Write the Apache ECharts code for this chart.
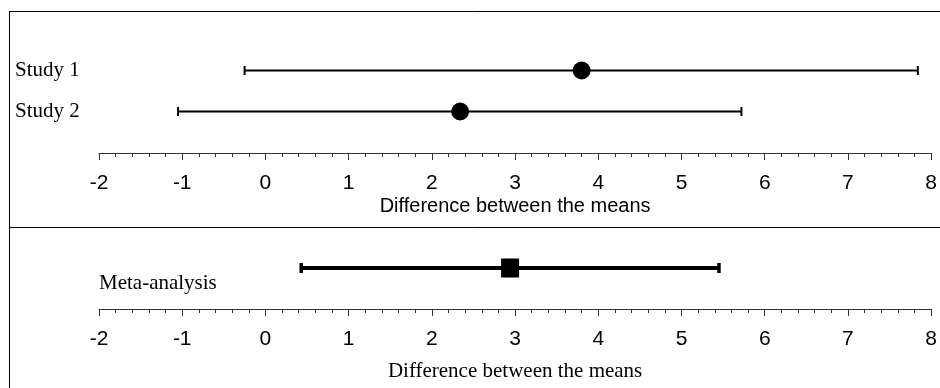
<!DOCTYPE html>
<html>
<head>
<meta charset="utf-8">
<script src="https://cdn.jsdelivr.net/npm/echarts@6/dist/echarts.min.js"></script>
<style>html,body{margin:0;padding:0;background:#fff;}#c{width:940px;height:388px;}</style>
</head>
<body>
<div id="c"></div>
<script>
// Data
const studies = ['Study 1', 'Study 2'];
const studyMean = [3.80, 2.34];
const studyLow = [-0.25, -1.05];
const studyHigh = [7.84, 5.72];
const metaLabel = ['Meta-analysis'];
const metaMean = [2.94];
const metaLow = [0.43];
const metaHigh = [5.45];
const axisName = 'Difference between the means';
const xMin = -2, xMax = 8;

const chart = echarts.init(document.getElementById('c'));

function errRender(lineW, capHalf, capW) {
  return function (params, api) {
    const y = api.value(2);
    const a = api.coord([api.value(0), y]);
    const b = api.coord([api.value(1), y]);
    const st = { stroke: '#000', lineWidth: lineW };
    const cst = { stroke: '#000', lineWidth: capW };
    return {
      type: 'group',
      children: [
        { type: 'line', shape: { x1: a[0], y1: a[1], x2: b[0], y2: b[1] }, style: st },
        { type: 'line', shape: { x1: a[0], y1: a[1] - capHalf, x2: a[0], y2: a[1] + capHalf }, style: cst },
        { type: 'line', shape: { x1: b[0], y1: b[1] - capHalf, x2: b[0], y2: b[1] + capHalf }, style: cst }
      ]
    };
  };
}

function xAxisDef(gi, nameFont, nameSize, nameGap) {
  return {
    type: 'value', gridIndex: gi, min: xMin, max: xMax, interval: 1,
    position: 'bottom', offset: 21,
    name: axisName, nameLocation: 'middle', nameGap: nameGap,
    nameTextStyle: { fontFamily: nameFont, fontSize: nameSize, color: '#000' },
    axisLine: { show: true, onZero: false, lineStyle: { color: '#333', width: 1 } },
    axisTick: { show: true, length: 7, lineStyle: { color: '#333', width: 1 } },
    minorTick: { show: true, splitNumber: 5, length: 4, lineStyle: { color: '#333', width: 1 } },
    splitLine: { show: false },
    minorSplitLine: { show: false },
    axisLabel: { margin: 20, fontFamily: 'Liberation Sans', fontSize: 21, color: '#000' }
  };
}

const option = {
  animation: false,
  backgroundColor: '#fff',
  grid: [
    { left: 99, right: 7, top: 50, height: 82 },
    { left: 99, right: 7, top: 248, height: 40 }
  ],
  xAxis: [
    xAxisDef(0, 'Liberation Sans', 20, 43),
    xAxisDef(1, 'Liberation Serif', 21, 52)
  ],
  yAxis: [
    {
      type: 'category', gridIndex: 0, data: studies, inverse: true,
      axisLine: { show: false }, axisTick: { show: false }, splitLine: { show: false },
      axisLabel: { align: 'left', margin: 84, padding: [3, 0, 0, 0], fontFamily: 'Liberation Serif', fontSize: 21, color: '#000' }
    },
    {
      type: 'category', gridIndex: 1, data: metaLabel,
      axisLine: { show: false }, axisTick: { show: false }, splitLine: { show: false },
      axisLabel: { align: 'left', margin: 0, verticalAlign: 'top', padding: [5, 0, 0, 0], fontFamily: 'Liberation Serif', fontSize: 21, color: '#000' }
    }
  ],
  series: [
    {
      type: 'custom', xAxisIndex: 0, yAxisIndex: 0,
      data: studies.map((s, i) => [studyLow[i], studyHigh[i], i]),
      encode: { x: [0, 1], y: 2 },
      renderItem: errRender(2, 4.5, 2),
      z: 2
    },
    {
      type: 'scatter', xAxisIndex: 0, yAxisIndex: 0,
      data: studyMean.map((m, i) => [m, i]),
      symbol: 'circle', symbolSize: 18,
      itemStyle: { color: '#000', opacity: 1 },
      z: 3
    },
    {
      type: 'custom', xAxisIndex: 1, yAxisIndex: 1,
      data: metaMean.map((m, i) => [metaLow[i], metaHigh[i], i]),
      encode: { x: [0, 1], y: 2 },
      renderItem: errRender(4, 5, 3.5),
      z: 2
    },
    {
      type: 'scatter', xAxisIndex: 1, yAxisIndex: 1,
      data: metaMean.map((m, i) => [m, i]),
      symbol: 'rect', symbolSize: [18, 19],
      itemStyle: { color: '#000', opacity: 1 },
      z: 3
    }
  ],
  graphic: [
    { type: 'line', shape: { x1: 9, y1: 11.5, x2: 940, y2: 11.5 }, style: { stroke: '#000', lineWidth: 1 }, silent: true },
    { type: 'line', shape: { x1: 9.5, y1: 11, x2: 9.5, y2: 388 }, style: { stroke: '#000', lineWidth: 1 }, silent: true },
    { type: 'line', shape: { x1: 9, y1: 227.5, x2: 940, y2: 227.5 }, style: { stroke: '#000', lineWidth: 1 }, silent: true }
  ]
};
chart.setOption(option);
</script>
</body>
</html>
